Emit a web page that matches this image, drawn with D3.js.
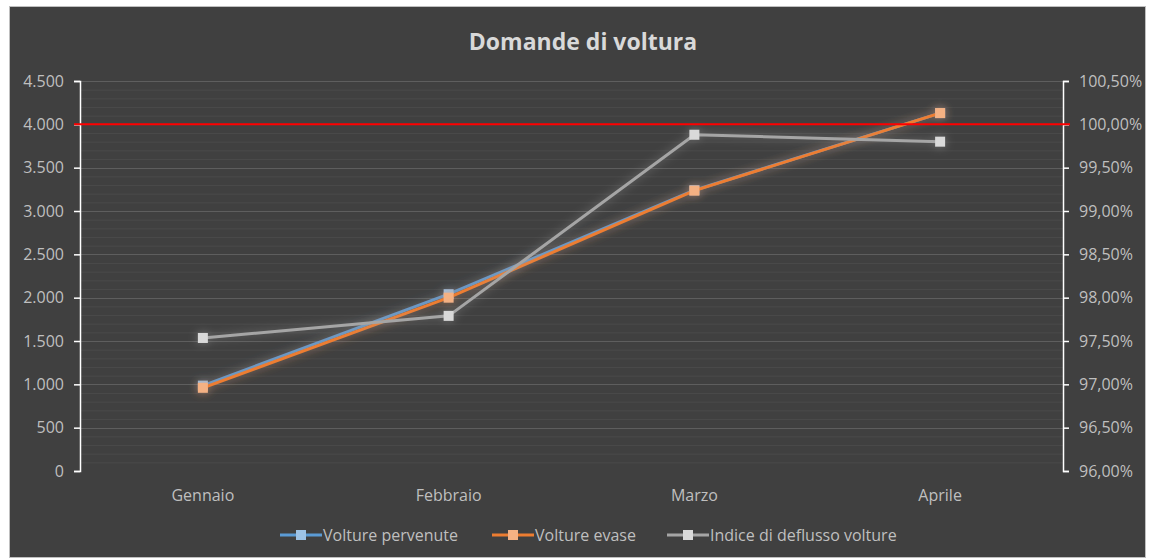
<!DOCTYPE html>
<html>
<head>
<meta charset="utf-8">
<script src="https://cdn.jsdelivr.net/npm/d3@7"></script>
<style>
  body { margin: 0; background: #ffffff; }
  svg { display: block; font-family: "Open Sans", sans-serif; }
</style>
</head>
<body>
<svg id="chart"></svg>
<script>
// dati
const mesi = ["Gennaio", "Febbraio", "Marzo", "Aprile"];
const voltPervenute = [985, 2040, 3240, 4130];
const voltEvase = [960, 2000, 3235, 4130];
const indiceDeflusso = [97.535, 97.79, 99.88, 99.80];
const leftTicks = [0, 500, 1000, 1500, 2000, 2500, 3000, 3500, 4000, 4500];
const rightTicks = [96, 96.5, 97, 97.5, 98, 98.5, 99, 99.5, 100, 100.5];
const soglia = 4000;
const titolo = "Domande di voltura";
const nomiSerie = ["Volture pervenute", "Volture evase", "Indice di deflusso volture"];

const W = 1151, H = 560;
const margin = { top: 81, right: 88, bottom: 89, left: 80 };
const fontSize = 16;

var svg = d3.select("#chart").attr("width", W).attr("height", H);

// filtro glow per le linee
var defs = svg.append("defs");
function glow(id, color) {
  var f = defs.append("filter").attr("id", id)
    .attr("x", "-20%").attr("y", "-30%").attr("width", "140%").attr("height", "160%");
  f.append("feGaussianBlur").attr("in", "SourceAlpha").attr("stdDeviation", 5).attr("result", "b");
  f.append("feFlood").attr("flood-color", color).attr("flood-opacity", 0.55);
  f.append("feComposite").attr("in2", "b").attr("operator", "in").attr("result", "g");
  var m = f.append("feMerge");
  m.append("feMergeNode").attr("in", "g");
  m.append("feMergeNode").attr("in", "SourceGraphic");
}

// sfondo
svg.append("rect").attr("x", 9.5).attr("y", 6.5).attr("width", 1136).attr("height", 551)
  .attr("fill", "#404040").attr("stroke", "#bfbfbf").attr("stroke-width", 1);

svg.append("text").attr("x", 583).attr("y", 50).attr("text-anchor", "middle")
  .attr("fill", "#d9d9d9").attr("font-size", 23).attr("font-weight", "bold")
  .text(titolo);

var x = d3.scaleBand().domain(mesi)
  .range([margin.left, W - margin.right]);
var yL = d3.scaleLinear().domain([0, 4500])
  .range([H - margin.bottom, margin.top]);
var yR = d3.scaleLinear().domain([96, 100.5])
  .range([H - margin.bottom, margin.top]);

// griglia minore
var minor = d3.range(0, 4500, 100).filter(function (d) { return d % 500 != 0; });
svg.append("g").selectAll("line").data(minor).enter().append("line")
  .attr("x1", margin.left).attr("x2", W - margin.right)
  .attr("y1", function (d) { return yL(d) + 0.5; }).attr("y2", function (d) { return yL(d) + 0.5; })
  .attr("stroke", "#494949").attr("stroke-width", 1);
// griglia maggiore
svg.append("g").selectAll("line").data(leftTicks.slice(1)).enter().append("line")
  .attr("x1", margin.left).attr("x2", W - margin.right)
  .attr("y1", function (d) { return Math.round(yL(d)) + 0.5; })
  .attr("y2", function (d) { return Math.round(yL(d)) + 0.5; })
  .attr("stroke", "#5e5e5e").attr("stroke-width", 1);

// assi
var axL = svg.append("g").attr("transform", "translate(" + margin.left + ",0)")
  .call(d3.axisLeft(yL).tickValues(leftTicks).tickSize(6).tickPadding(10)
    .tickFormat(function (d) { return d3.format(",")(d).replace(/,/g, "."); }));
var axR = svg.append("g").attr("transform", "translate(" + (W - margin.right) + ",0)")
  .call(d3.axisRight(yR).tickValues(rightTicks).tickSize(6).tickPadding(10)
    .tickFormat(function (d) { return d.toFixed(2).replace(".", ",") + "%"; }));
[axL, axR].forEach(function (a) {
  a.select(".domain").attr("stroke", "#ffffff").attr("stroke-width", 1.5);
  a.selectAll(".tick line").attr("stroke", "#ffffff").attr("stroke-width", 1.5);
  a.selectAll(".tick text").attr("fill", "#bfbfbf").attr("font-size", fontSize)
    .attr("font-family", "'Open Sans', sans-serif");
});

// etichette categorie
svg.append("g").selectAll("text").data(mesi).enter().append("text")
  .attr("x", function (d) { return x(d) + x.bandwidth() / 2; })
  .attr("y", 501).attr("text-anchor", "middle")
  .attr("fill", "#bfbfbf").attr("font-size", fontSize).text(function (d) { return d; });

// serie
var serie = [
  { nome: nomiSerie[0], val: voltPervenute, y: yL, line: "#5b9bd5", fill: "#9dc3e6" },
  { nome: nomiSerie[1], val: voltEvase, y: yL, line: "#ed7d31", fill: "#f4b183" },
  { nome: nomiSerie[2], val: indiceDeflusso, y: yR, line: "#a5a5a5", fill: "#d9d9d9" }
];

serie.forEach(function (s, i) {
  glow("glow" + i, s.line);
  var g = svg.append("g").attr("filter", "url(#glow" + i + ")");
  var line = d3.line()
    .x(function (d, j) { return x(mesi[j]) + x.bandwidth() / 2; })
    .y(function (d) { return s.y(d); });
  g.append("path").datum(s.val).attr("d", line)
    .attr("fill", "none").attr("stroke", s.line).attr("stroke-width", 3);
  g.selectAll("rect").data(s.val).enter().append("rect")
    .attr("x", function (d, j) { return x(mesi[j]) + x.bandwidth() / 2 - 5; })
    .attr("y", function (d) { return s.y(d) - 5; })
    .attr("width", 10).attr("height", 10)
    .attr("fill", s.fill);
});

// linea di soglia
svg.append("line")
  .attr("x1", margin.left - 6).attr("x2", W - margin.right + 7)
  .attr("y1", yL(soglia)).attr("y2", yL(soglia))
  .attr("stroke", "#ff0000").attr("stroke-width", 2);

// legenda
var legX = [280, 492, 667];
var leg = svg.append("g").selectAll("g").data(serie).enter().append("g")
  .attr("transform", function (d, i) { return "translate(" + legX[i] + ",535)"; });
leg.append("line").attr("x1", 0).attr("x2", 42).attr("y1", 0).attr("y2", 0)
  .attr("stroke", function (d) { return d.line; }).attr("stroke-width", 3);
leg.append("rect").attr("x", 16).attr("y", -5).attr("width", 10).attr("height", 10)
  .attr("fill", function (d) { return d.fill; });
leg.append("text").attr("x", 43).attr("y", 6).attr("fill", "#bfbfbf").attr("font-size", fontSize)
  .text(function (d) { return d.nome; });
</script>
</body>
</html>
